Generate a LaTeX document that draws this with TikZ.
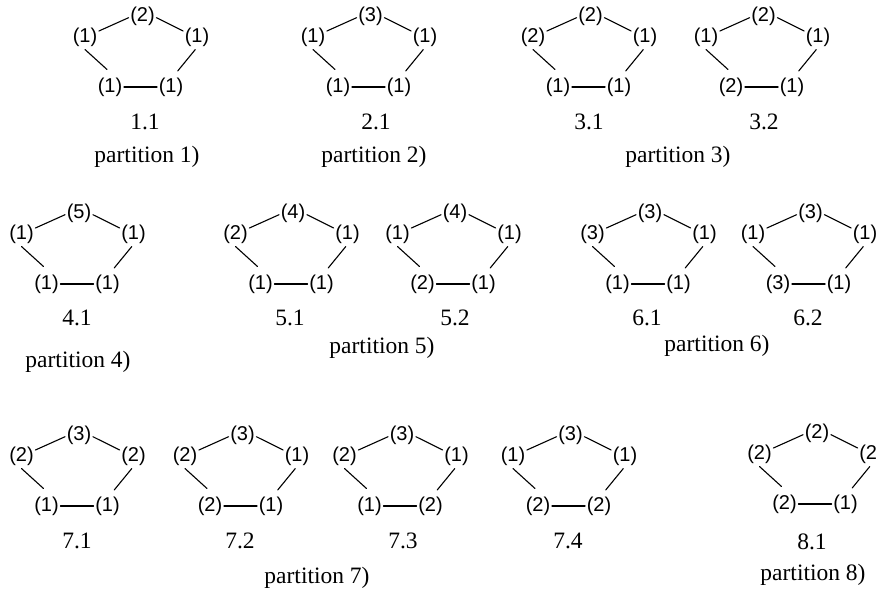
\documentclass[tikz,border=0pt]{standalone}
\usepackage{fontspec}
\setmainfont{Liberation Serif}
\newfontfamily\vlabfont{Liberation Sans}
\tikzset{
  vlab/.style={inner sep=1.5pt, font=\vlabfont\fontsize{20}{24}\selectfont},
  captext/.style={inner sep=0pt, font=\fontsize{23.5}{28}\selectfont},
  pedge/.style={line width=1.1pt, line cap=round},
}
% #1 prefix, #2 centre x, #3 y of side labels, #4 top, #5 left, #6 right, #7 bottom-left, #8 bottom-right
\newcommand\pent[8]{%
  \node[vlab] (#1t) at (#2+1.5,#3-21) {(#4)};
  \node[vlab] (#1l) at (#2-56,#3) {(#5)};
  \node[vlab] (#1r) at (#2+56,#3) {(#6)};
  \node[vlab] (#1b) at (#2-31,#3+50) {(#7)};
  \node[vlab] (#1c) at (#2+30,#3+50) {(#8)};
  \draw[pedge] ([yshift=6pt]#1l.east) -- ([yshift=-1.7pt]#1t.west);
  \draw[pedge] ([yshift=-1.7pt]#1t.east) -- ([yshift=6pt]#1r.west);
  \draw[pedge] ([yshift=-1.5pt]#1l.south) -- ([xshift=-3pt,yshift=6.5pt]#1b.north);
  \draw[pedge] ([xshift=-1.7pt,yshift=-1.5pt]#1r.south) -- ([xshift=6.7pt,yshift=5pt]#1c.north);
  \draw[pedge] (#1b.east) -- (#1c.west);
}
\begin{document}
\begin{tikzpicture}[x=1pt,y=-1pt]
\useasboundingbox (0,0) rectangle (877,597);
\clip (0,0) rectangle (877,597);
% row 1
\pent{pa}{141}{37}{2}{1}{1}{1}{1}
\pent{pb}{369}{37}{3}{1}{1}{1}{1}
\pent{pc}{589}{37}{2}{2}{1}{1}{1}
\pent{pd}{762}{37}{2}{1}{1}{2}{1}
\node[captext] (ca) at (145,122) {1.1};
\node[captext] (cb) at (376,122) {2.1};
\node[captext] (cc) at (589,122) {3.1};
\node[captext] (cd) at (764,122) {3.2};
\node[captext] (qa) at (147,157) {partition 1)};
\node[captext] (qb) at (374,157) {partition 2)};
\node[captext] (qc) at (678,157) {partition 3)};
% row 2
\pent{pe}{77.5}{234}{5}{1}{1}{1}{1}
\pent{pf}{291.5}{234}{4}{2}{1}{1}{1}
\pent{pg}{453.5}{234}{4}{1}{1}{2}{1}
\pent{ph}{648.5}{234}{3}{3}{1}{1}{1}
\pent{pi}{809}{234}{3}{1}{1}{3}{1}
\node[captext] (ce) at (77,318) {4.1};
\node[captext] (cf) at (290,318) {5.1};
\node[captext] (cg) at (455,318) {5.2};
\node[captext] (ch) at (647,318) {6.1};
\node[captext] (ci) at (808,318) {6.2};
\node[captext] (qd) at (78,362) {partition 4)};
\node[captext] (qe) at (382,348) {partition 5)};
\node[captext] (qf) at (717,346) {partition 6)};
% row 3
\pent{pj}{77.5}{456}{3}{2}{2}{1}{1}
\pent{pk}{241}{456}{3}{2}{1}{2}{1}
\pent{pl}{400.5}{456}{3}{2}{1}{1}{2}
\pent{pm}{569}{456}{3}{1}{1}{2}{2}
\pent{pn}{815.5}{454}{2}{2}{2}{2}{1}
\node[captext] (cj) at (77,541) {7.1};
\node[captext] (ck) at (240,541) {7.2};
\node[captext] (cl) at (403,541) {7.3};
\node[captext] (cm) at (568,541) {7.4};
\node[captext] (cn) at (812,542) {8.1};
\node[captext] (qg) at (317,578) {partition 7)};
\node[captext] (qh) at (813,575) {partition 8)};
\end{tikzpicture}
\end{document}
